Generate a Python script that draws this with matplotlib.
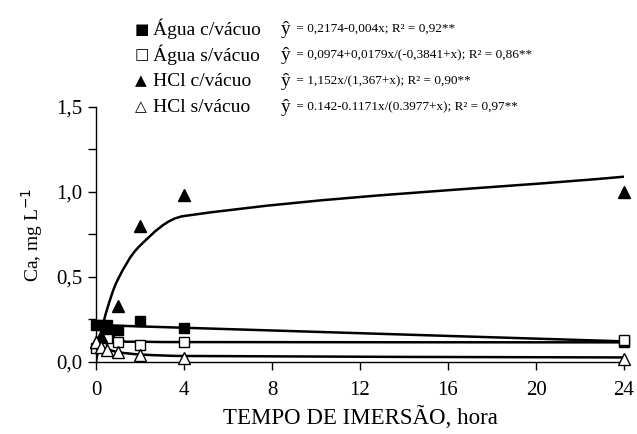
import numpy as np
import matplotlib.pyplot as plt
from matplotlib.path import Path
from matplotlib.patches import PathPatch
from matplotlib.ticker import MultipleLocator, FuncFormatter

plt.rcParams['font.family'] = ['Liberation Serif', 'DejaVu Sans']

# tempo de imersão (hora)
tempo = [0, 0.25, 0.5, 1, 2, 4, 24]

# valores observados (Ca, mg L-1)
agua_cv = [0.22, 0.22, 0.22, 0.19, 0.24, 0.20, 0.12]
agua_sv = [0.08, 0.10, 0.14, 0.12, 0.10, 0.12, 0.13]
hcl_cv = [0.12, 0.15, 0.20, 0.33, 0.80, 0.98, 1.00]
hcl_sv = [0.12, 0.09, 0.07, 0.06, 0.04, 0.025, 0.02]

legenda = ['Água c/vácuo', 'Água s/vácuo', 'HCl c/vácuo', 'HCl s/vácuo']
simbolos = ['■', '□', '▲', '△']
equacoes = [' = 0,2174-0,004x; R² = 0,92**',
            ' = 0,0974+0,0179x/(-0,3841+x); R² = 0,86**',
            ' = 1,152x/(1,367+x); R² = 0,90**',
            ' = 0.142-0.1171x/(0.3977+x); R² = 0,97**']

t = np.array(tempo, dtype=float)
# valores estimados pelas equações nos tempos medidos
fit_agua_cv = 0.2174 - 0.004 * t
fit_agua_sv = 0.0974 + 0.0179 * t / (-0.3841 + t)
fit_hcl_cv = 1.152 * t / (1.367 + t)
fit_hcl_sv = 0.142 - 0.1171 * t / (0.3977 + t)

# escala aproximada em pixels (x: 22 px/h, y: 170 px/unidade) p/ suavizar
SX, SY = 22.0, 170.0


def linha_suavizada(x, y):
    # Bezier pelos pontos, tangente pelos vizinhos, comprimento = corda/3
    p = np.column_stack([np.asarray(x) * SX, np.asarray(y) * SY])
    n = len(p)
    u = np.zeros_like(p)
    for i in range(n):
        d = p[min(i + 1, n - 1)] - p[max(i - 1, 0)]
        u[i] = d / np.hypot(*d)
    verts = [p[0]]
    codes = [Path.MOVETO]
    for i in range(n - 1):
        L = np.hypot(*(p[i + 1] - p[i])) / 3
        verts += [p[i] + u[i] * L, p[i + 1] - u[i + 1] * L, p[i + 1]]
        codes += [Path.CURVE4] * 3
    v = np.array(verts) / [SX, SY]
    return Path(v, codes)


fig = plt.figure(figsize=(6.37, 4.34), dpi=100)
ax = fig.add_axes([0.1507, 0.1659, 0.8289, 0.5876])

lw = 1.8
for fy in [fit_hcl_cv, fit_agua_cv, fit_agua_sv, fit_hcl_sv]:
    ax.add_patch(PathPatch(linha_suavizada(t, fy), facecolor='none',
                           edgecolor='black', lw=lw, zorder=2))

ms = 7.5
ax.plot(tempo, agua_cv, 's', color='black', ms=ms, zorder=3, clip_on=False)
ax.plot(tempo, agua_sv, 's', mfc='white', mec='black', mew=1.0, ms=ms, zorder=3, clip_on=False)
ax.plot(tempo, hcl_cv, '^', color='black', ms=ms + 1, zorder=3, clip_on=False)
ax.plot(tempo, hcl_sv, '^', mfc='white', mec='black', mew=1.0, ms=ms + 1, zorder=3, clip_on=False)

ax.set_xlim(0, 24)
ax.set_ylim(0, 1.5)
ax.xaxis.set_major_locator(MultipleLocator(4))
ax.yaxis.set_major_locator(MultipleLocator(0.5))
ax.yaxis.set_minor_locator(MultipleLocator(0.25))
ax.yaxis.set_major_formatter(FuncFormatter(lambda v, p: f'{v:.1f}'.replace('.', ',')))
ax.spines['top'].set_visible(False)
ax.spines['right'].set_visible(False)
ax.spines['left'].set_linewidth(1.0)
ax.spines['bottom'].set_linewidth(1.0)
ax.tick_params(axis='both', which='both', direction='out', labelsize=15, width=1.0)
ax.tick_params(axis='y', which='both', length=6, pad=4)
ax.tick_params(axis='x', length=6, pad=8)

ax.set_xlabel('TEMPO DE IMERSÃO, hora', fontsize=16.5, labelpad=4)
ax.set_ylabel('Ca, mg L$^{-1}$', fontsize=14, labelpad=8)

# legenda com equações
ys = [29, 55, 81, 107]
for s, nome, eq, yp in zip(simbolos, legenda, equacoes, ys):
    yf = 1 - yp / 434
    fig.text(135 / 637, yf, s, fontsize=11, va='center', family=['DejaVu Sans'])
    fig.text(153 / 637, yf, nome, fontsize=14, va='center')
    fig.text(281 / 637, yf, 'ŷ', fontsize=14, va='center')
    fig.text(293 / 637, yf, eq, fontsize=9.5, va='center')

fig.savefig('out.png', dpi=100)
